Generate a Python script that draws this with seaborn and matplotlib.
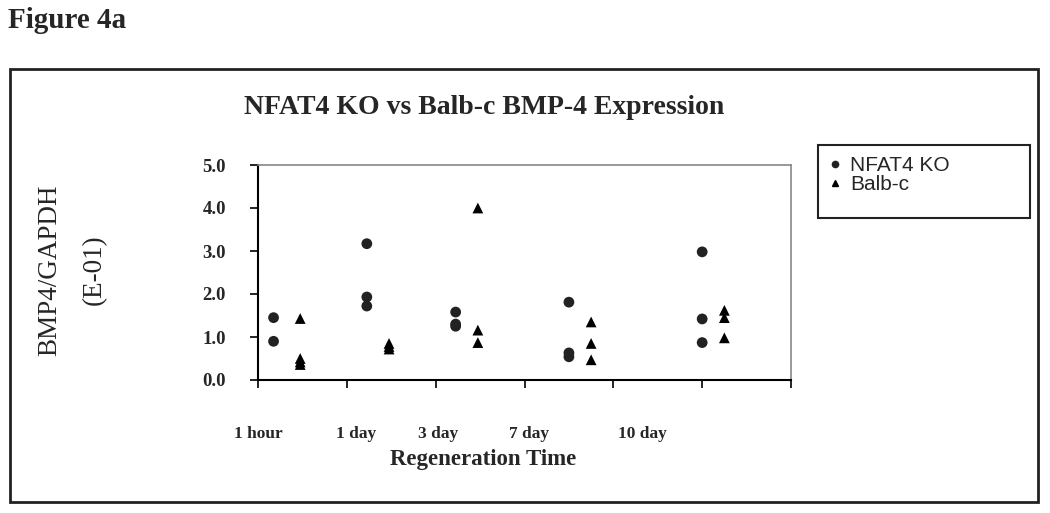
import numpy as np
import pandas as pd
import matplotlib
matplotlib.use("Agg")
import matplotlib.pyplot as plt
from matplotlib.patches import Rectangle
import seaborn as sns

# values (BMP4/GAPDH, E-01)
time_labels = ["1 hour", "1 day", "3 day", "7 day", "10 day"]
nfat_x = [0.35, 2.45, 4.45, 7.0, 10.0]
balb_x = [0.95, 2.95, 4.95, 7.5, 10.5]
nfat_vals = [
    [1.45, 0.90],
    [3.17, 1.93, 1.72],
    [1.58, 1.30, 1.25],
    [1.81, 0.63, 0.54],
    [2.98, 1.42, 0.87],
]
balb_vals = [
    [1.43, 0.50, 0.42, 0.36],
    [0.85, 0.78, 0.72],
    [4.00, 1.16, 0.87],
    [1.35, 0.85, 0.47],
    [1.62, 1.45, 0.98],
]
label_pos = [0.0, 2.2, 4.05, 6.1, 8.65]

rows = []
for xs, vals, name in [(nfat_x, nfat_vals, "NFAT4 KO"), (balb_x, balb_vals, "Balb-c")]:
    for x, vv in zip(xs, vals):
        for v in vv:
            rows.append({"x": x, "value": v, "group": name})
df = pd.DataFrame(rows)

sns.set_style("white")
plt.rcParams["font.family"] = ["Liberation Serif", "DejaVu Serif"]

fig = plt.figure(figsize=(10.5, 5.13), dpi=100)
W, H = 1050, 513
ax = fig.add_axes([258 / W, 1 - 380 / H, (791 - 258) / W, (380 - 165) / H])

sns.scatterplot(data=df, x="x", y="value", style="group", hue="group",
                markers={"NFAT4 KO": "o", "Balb-c": "^"},
                palette={"NFAT4 KO": "#222222", "Balb-c": "#000000"},
                s=60, linewidth=0, legend=False, ax=ax)

ax.xaxis.remove_overlapping_locs = False
ax.set_xticks(np.arange(0, 13, 2))
ax.set_xticklabels([])
ax.set_xticks(label_pos, minor=True)
ax.set_xticklabels(time_labels, minor=True, fontweight="bold", fontsize=12.5)
ax.tick_params(axis="x", which="minor", length=0, pad=33)
ax.tick_params(axis="x", which="major", direction="out", length=6, width=1.2, color="black", bottom=True)
ax.set_yticks(np.arange(0, 5.01, 1))
ax.set_yticklabels([f"{v:.1f}" for v in np.arange(0, 5.01, 1)], fontweight="bold", fontsize=13.5)
ax.tick_params(axis="y", direction="out", length=6, width=1.2, color="black", left=True, pad=17)
ax.set_xlim(0, 12)
ax.set_ylim(0, 5)

for s in ["left", "bottom"]:
    ax.spines[s].set_color("black")
    ax.spines[s].set_linewidth(1.5)
for s in ["top", "right"]:
    ax.spines[s].set_color("#888888")
    ax.spines[s].set_linewidth(1.2)

ax.set_xlabel("")
ax.set_ylabel("")
fig.text(483 / W, 1 - 460 / H, "Regeneration Time", ha="center", va="center",
         fontsize=16.5, fontweight="bold")
fig.text(50 / W, 1 - 270 / H, "BMP4/GAPDH", rotation=90, ha="center", va="center", fontsize=19.5)
fig.text(94 / W, 1 - 270 / H, "(E-01)", rotation=90, ha="center", va="center", fontsize=19.5)
fig.text(484 / W, 1 - 108 / H, "NFAT4 KO vs Balb-c BMP-4 Expression", ha="center", va="center",
         fontsize=20, fontweight="bold")
fig.text(8 / W, 1 - 20 / H, "Figure 4a", ha="left", va="center", fontsize=21, fontweight="bold")

# outer chart border
fig.patches.append(Rectangle((10 / W, 1 - 502 / H), (1038 - 10) / W, (502 - 69) / H,
                             transform=fig.transFigure, fill=False, edgecolor="#222222", linewidth=2))
# legend box
fig.patches.append(Rectangle((818 / W, 1 - 218 / H), (1030 - 818) / W, (218 - 145) / H,
                             transform=fig.transFigure, fill=False, edgecolor="#222222", linewidth=1.5))
handles = [plt.Line2D([], [], marker="o", color="#222222", linestyle="", markersize=4.5),
           plt.Line2D([], [], marker="^", color="#000000", linestyle="", markersize=5)]
fig.legend(handles, ["NFAT4 KO", "Balb-c"], loc="upper left", bbox_to_anchor=(820 / W, 1 - 148 / H),
           frameon=False, borderaxespad=0, handlelength=0.6, handletextpad=0.45, labelspacing=0.0,
           prop={"family": "Liberation Sans", "size": 15})

fig.savefig("out.png", dpi=100)
